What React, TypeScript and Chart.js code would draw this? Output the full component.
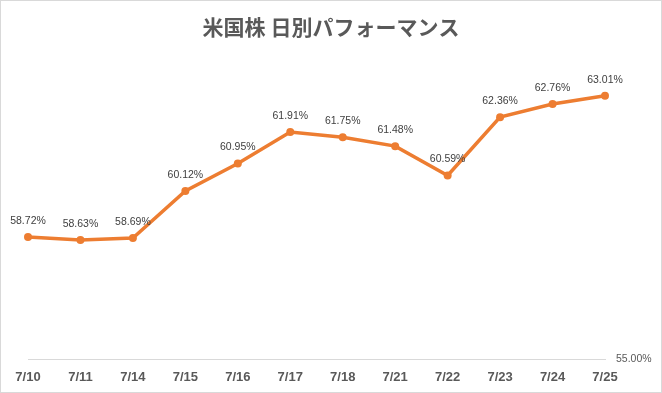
import React, { useEffect, useRef } from "react";
import { Chart, registerables } from "chart.js";

Chart.register(...registerables);

const TITLE = "米国株 日別パフォーマンス";
const categories = ["7/10", "7/11", "7/14", "7/15", "7/16", "7/17", "7/18", "7/21", "7/22", "7/23", "7/24", "7/25"];
const performance = [58.72, 58.63, 58.69, 60.12, 60.95, 61.91, 61.75, 61.48, 60.59, 62.36, 62.76, 63.01];
const yMin = 55;
const yMax = 64;

const ORANGE = "#ED7D31";

const dataLabelPlugin = {
  id: "pointLabels",
  afterDatasetsDraw(chart: any) {
    const ctx = chart.ctx;
    const meta = chart.getDatasetMeta(0);
    const values = chart.data.datasets[0].data as number[];
    ctx.save();
    ctx.font = "10.5px 'Liberation Sans', Arial, sans-serif";
    ctx.fillStyle = "#404040";
    ctx.textAlign = "center";
    ctx.textBaseline = "middle";
    meta.data.forEach((pt: any, i: number) => {
      ctx.fillText(values[i].toFixed(2) + "%", pt.x, pt.y - 16);
    });
    ctx.restore();
  },
};

export default function App() {
  const ref = useRef<HTMLCanvasElement | null>(null);

  useEffect(() => {
    document.body.style.margin = "0";
    const canvas = ref.current;
    if (!canvas) return;
    const chart = new Chart(canvas, {
      type: "line",
      data: {
        labels: categories,
        datasets: [
          {
            data: performance,
            yAxisID: "y",
            borderColor: ORANGE,
            backgroundColor: ORANGE,
            borderWidth: 3.5,
            pointRadius: 4,
            pointBackgroundColor: ORANGE,
            pointBorderColor: ORANGE,
            pointBorderWidth: 0,
            tension: 0,
            fill: false,
          },
        ],
      },
      options: {
        responsive: false,
        animation: false,
        events: [],
        layout: { padding: { left: 0, right: 0, top: 0, bottom: -3 } },
        plugins: {
          legend: { display: false },
          tooltip: { enabled: false },
          title: {
            display: true,
            text: TITLE,
            color: "#595959",
            font: { family: "'Noto Sans CJK JP', sans-serif", size: 21, weight: "bold" },
            padding: { top: 13, bottom: 24 },
          },
        },
        scales: {
          x: {
            type: "category",
            offset: false,
            grid: { display: false, drawTicks: false },
            border: { display: true, color: "#d9d9d9", width: 1 },
            ticks: {
              color: "#595959",
              padding: 10,
              maxRotation: 0,
              autoSkip: false,
              font: { family: "'Liberation Sans', Arial, sans-serif", size: 13, weight: "bold" },
            },
          },
          yLeft: {
            position: "left",
            min: yMin,
            max: yMax,
            display: true,
            grid: { display: false, drawTicks: false },
            border: { display: false },
            ticks: { display: false },
            afterFit: (scale: any) => {
              scale.width = 27;
            },
          },
          y: {
            position: "right",
            min: yMin,
            max: yMax,
            grid: { display: false, drawTicks: false },
            border: { display: false },
            ticks: {
              stepSize: 1,
              padding: 11,
              color: "#595959",
              font: { family: "'Liberation Sans', Arial, sans-serif", size: 10.5 },
              callback: (v: any) => (Number(v) === yMin ? Number(v).toFixed(2) + "%" : ""),
            },
            afterFit: (scale: any) => {
              scale.width = 56;
            },
          },
        },
      },
      plugins: [dataLabelPlugin],
    });
    return () => chart.destroy();
  }, []);

  return (
    <div
      style={{
        position: "fixed",
        left: 0,
        top: 0,
        width: 662,
        height: 393,
        boxSizing: "border-box",
        border: "1px solid #d9d9d9",
        background: "#ffffff",
      }}
    >
      <canvas ref={ref} width={660} height={391} style={{ display: "block", width: 660, height: 391 }} />
    </div>
  );
}
